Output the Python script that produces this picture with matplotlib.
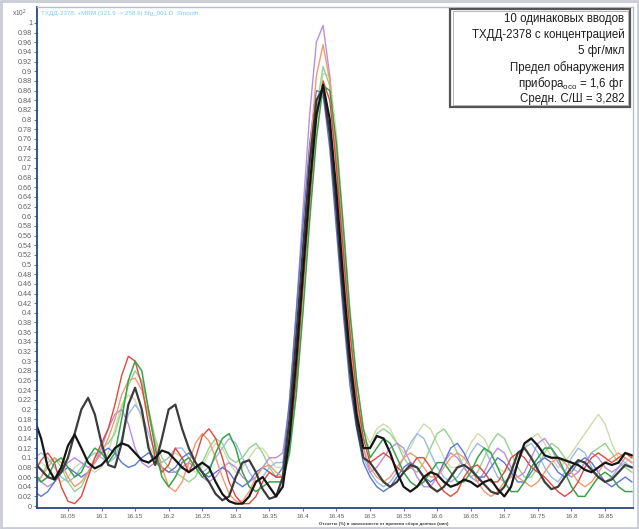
import numpy as np
import matplotlib
matplotlib.use("Agg")
import matplotlib.pyplot as plt
from matplotlib.patches import Rectangle

plt.rcParams['font.family'] = ['Liberation Sans', 'DejaVu Sans']
plt.rcParams['mathtext.fontset'] = 'custom'
plt.rcParams['mathtext.rm'] = 'Liberation Sans'

# retention time grid, min
rt = np.linspace(16.00, 16.89, 90)

# counts (x10^2), one list per injection: 16.00..16.37 | peak 16.38..16.49 | 16.50..16.89
black = [0.18, 0.14, 0.08, 0.055, 0.08, 0.125, 0.148, 0.12, 0.09, 0.078,
         0.085, 0.10, 0.12, 0.13, 0.125, 0.11, 0.095, 0.09, 0.10, 0.115,
         0.11, 0.095, 0.08, 0.07, 0.08, 0.09, 0.08, 0.05, 0.025, 0.01,
         0.005, 0.005, 0.02, 0.05, 0.06, 0.04, 0.02, 0.04,
         0.14, 0.30, 0.48, 0.66, 0.81, 0.872, 0.80, 0.65, 0.47, 0.31, 0.19, 0.12,
         0.12, 0.145, 0.14, 0.11, 0.07, 0.04, 0.03, 0.04, 0.06, 0.07,
         0.065, 0.05, 0.04, 0.045, 0.055, 0.05, 0.04, 0.05, 0.055, 0.035,
         0.02, 0.04, 0.09, 0.13, 0.14, 0.125, 0.105, 0.10, 0.10, 0.095,
         0.09, 0.085, 0.075, 0.07, 0.08, 0.09, 0.085, 0.09, 0.11, 0.105]
dark = [0.09, 0.075, 0.06, 0.055, 0.07, 0.10, 0.15, 0.20, 0.224, 0.19,
        0.13, 0.085, 0.08, 0.13, 0.21, 0.245, 0.20, 0.12, 0.085, 0.14,
        0.20, 0.21, 0.16, 0.12, 0.09, 0.07, 0.05, 0.025, 0.012, 0.02,
        0.06, 0.09, 0.095, 0.07, 0.035, 0.015, 0.02, 0.06,
        0.18, 0.35, 0.53, 0.71, 0.84, 0.865, 0.77, 0.61, 0.43, 0.28, 0.17, 0.10,
        0.09, 0.07, 0.05, 0.04, 0.05, 0.07, 0.085, 0.08, 0.06, 0.04,
        0.03, 0.04, 0.06, 0.08, 0.085, 0.075, 0.06, 0.045, 0.03, 0.025,
        0.04, 0.07, 0.11, 0.12, 0.10, 0.075, 0.05, 0.035, 0.04, 0.06,
        0.08, 0.095, 0.09, 0.075, 0.06, 0.05, 0.055, 0.07, 0.085, 0.08]
red = [0.07, 0.095, 0.11, 0.09, 0.04, 0.01, 0.005, 0.02, 0.06, 0.10,
       0.13, 0.16, 0.21, 0.27, 0.31, 0.30, 0.25, 0.17, 0.10, 0.07,
       0.085, 0.12, 0.10, 0.07, 0.10, 0.145, 0.16, 0.14, 0.10, 0.05,
       0.02, 0.005, 0.005, 0.02, 0.05, 0.07, 0.06, 0.06,
       0.13, 0.26, 0.45, 0.63, 0.80, 0.88, 0.84, 0.70, 0.53, 0.36, 0.23, 0.14,
       0.09, 0.10, 0.11, 0.10, 0.08, 0.07, 0.08, 0.10, 0.10, 0.08,
       0.05, 0.03, 0.02, 0.03, 0.06, 0.08, 0.085, 0.07, 0.05, 0.05,
       0.07, 0.10, 0.11, 0.10, 0.08, 0.07, 0.06, 0.045, 0.03, 0.02,
       0.03, 0.05, 0.08, 0.10, 0.11, 0.10, 0.09, 0.10, 0.11, 0.10]
orange = [0.05, 0.06, 0.08, 0.10, 0.09, 0.06, 0.04, 0.05, 0.07, 0.09,
          0.11, 0.14, 0.18, 0.23, 0.26, 0.265, 0.24, 0.19, 0.13, 0.08,
          0.04, 0.03, 0.05, 0.09, 0.13, 0.15, 0.135, 0.10, 0.06, 0.025,
          0.01, 0.01, 0.03, 0.06, 0.08, 0.085, 0.07, 0.06,
          0.15, 0.32, 0.53, 0.73, 0.89, 0.955, 0.88, 0.71, 0.52, 0.33, 0.21, 0.12,
          0.08, 0.06, 0.05, 0.06, 0.08, 0.10, 0.11, 0.10, 0.08, 0.06,
          0.06, 0.08, 0.10, 0.11, 0.10, 0.08, 0.05, 0.03, 0.02, 0.03,
          0.05, 0.06, 0.06, 0.05, 0.04, 0.05, 0.07, 0.09, 0.10, 0.09,
          0.07, 0.05, 0.04, 0.05, 0.07, 0.09, 0.10, 0.11, 0.10, 0.09]
green = [0.07, 0.05, 0.06, 0.09, 0.10, 0.08, 0.06, 0.07, 0.10, 0.12,
         0.11, 0.09, 0.11, 0.18, 0.26, 0.30, 0.28, 0.20, 0.12, 0.06,
         0.04, 0.06, 0.09, 0.10, 0.08, 0.06, 0.07, 0.11, 0.14, 0.15,
         0.12, 0.07, 0.04, 0.03, 0.04, 0.05, 0.05, 0.05,
         0.11, 0.23, 0.40, 0.59, 0.76, 0.87, 0.86, 0.75, 0.58, 0.40, 0.26, 0.16,
         0.10, 0.12, 0.14, 0.13, 0.10, 0.07, 0.05, 0.04, 0.05, 0.07,
         0.09, 0.09, 0.07, 0.05, 0.05, 0.07, 0.10, 0.12, 0.11, 0.08,
         0.05, 0.03, 0.03, 0.05, 0.08, 0.10, 0.12, 0.12, 0.10, 0.07,
         0.04, 0.02, 0.02, 0.04, 0.06, 0.07, 0.06, 0.04, 0.03, 0.03]
lightgreen = [0.04, 0.06, 0.09, 0.10, 0.08, 0.05, 0.03, 0.04, 0.07, 0.10,
              0.12, 0.13, 0.15, 0.20, 0.25, 0.28, 0.26, 0.20, 0.14, 0.10,
              0.08, 0.07, 0.06, 0.05, 0.06, 0.09, 0.12, 0.14, 0.13, 0.10,
              0.09, 0.10, 0.12, 0.13, 0.11, 0.08, 0.06, 0.06,
              0.13, 0.27, 0.46, 0.66, 0.82, 0.91, 0.87, 0.73, 0.55, 0.37, 0.23, 0.14,
              0.12, 0.15, 0.16, 0.15, 0.13, 0.10, 0.08, 0.07, 0.09, 0.12,
              0.15, 0.16, 0.14, 0.11, 0.08, 0.06, 0.07, 0.10, 0.13, 0.15,
              0.14, 0.11, 0.08, 0.06, 0.06, 0.08, 0.11, 0.13, 0.12, 0.10,
              0.08, 0.07, 0.09, 0.11, 0.12, 0.13, 0.11, 0.09, 0.08, 0.07]
blue = [0.03, 0.02, 0.03, 0.05, 0.07, 0.08, 0.07, 0.06, 0.07, 0.09,
        0.11, 0.12, 0.11, 0.09, 0.08, 0.085, 0.10, 0.11, 0.10, 0.08,
        0.07, 0.08, 0.10, 0.11, 0.09, 0.07, 0.06, 0.07, 0.08, 0.07,
        0.05, 0.04, 0.05, 0.07, 0.08, 0.07, 0.06, 0.08,
        0.22, 0.40, 0.58, 0.75, 0.86, 0.855, 0.74, 0.57, 0.40, 0.25, 0.16, 0.09,
        0.06, 0.04, 0.03, 0.04, 0.06, 0.08, 0.09, 0.08, 0.06, 0.05,
        0.06, 0.09, 0.12, 0.13, 0.11, 0.08, 0.06, 0.06, 0.08, 0.10,
        0.09, 0.07, 0.05, 0.05, 0.07, 0.09, 0.10, 0.09, 0.07, 0.06,
        0.07, 0.09, 0.10, 0.09, 0.07, 0.05, 0.04, 0.05, 0.06, 0.05]
lightblue = [0.10, 0.11, 0.10, 0.08, 0.06, 0.05, 0.06, 0.08, 0.10, 0.11,
             0.10, 0.09, 0.10, 0.14, 0.19, 0.21, 0.19, 0.15, 0.11, 0.09,
             0.10, 0.12, 0.12, 0.10, 0.08, 0.07, 0.08, 0.10, 0.12, 0.14,
             0.13, 0.10, 0.07, 0.05, 0.06, 0.08, 0.09, 0.09,
             0.18, 0.34, 0.52, 0.70, 0.82, 0.85, 0.76, 0.60, 0.43, 0.28, 0.17, 0.10,
             0.07, 0.05, 0.04, 0.05, 0.07, 0.10, 0.13, 0.15, 0.14, 0.11,
             0.08, 0.06, 0.05, 0.06, 0.08, 0.11, 0.13, 0.12, 0.09, 0.06,
             0.05, 0.06, 0.09, 0.12, 0.13, 0.11, 0.08, 0.06, 0.05, 0.07,
             0.10, 0.12, 0.11, 0.08, 0.06, 0.05, 0.06, 0.08, 0.09, 0.08]
purple = [0.06, 0.05, 0.04, 0.05, 0.07, 0.09, 0.10, 0.09, 0.08, 0.09,
          0.12, 0.16, 0.19, 0.20, 0.17, 0.12, 0.09, 0.08, 0.09, 0.08,
          0.07, 0.07, 0.08, 0.09, 0.08, 0.06, 0.05, 0.06, 0.08, 0.09,
          0.08, 0.06, 0.05, 0.06, 0.08, 0.10, 0.10, 0.11,
          0.21, 0.40, 0.61, 0.81, 0.96, 0.995, 0.89, 0.70, 0.50, 0.32, 0.20, 0.12,
          0.07, 0.08, 0.10, 0.12, 0.13, 0.12, 0.09, 0.06, 0.04, 0.04,
          0.06, 0.09, 0.11, 0.10, 0.08, 0.06, 0.05, 0.07, 0.10, 0.12,
          0.11, 0.08, 0.06, 0.07, 0.10, 0.13, 0.14, 0.12, 0.09, 0.07,
          0.06, 0.07, 0.09, 0.11, 0.10, 0.08, 0.07, 0.08, 0.10, 0.09]
pale = [0.08, 0.09, 0.08, 0.06, 0.05, 0.06, 0.08, 0.09, 0.08, 0.07,
        0.08, 0.11, 0.16, 0.21, 0.23, 0.22, 0.18, 0.13, 0.10, 0.09,
        0.10, 0.11, 0.10, 0.08, 0.07, 0.08, 0.11, 0.13, 0.12, 0.09,
        0.07, 0.08, 0.10, 0.12, 0.12, 0.10, 0.08, 0.08,
        0.11, 0.23, 0.41, 0.61, 0.78, 0.895, 0.89, 0.77, 0.59, 0.41, 0.26, 0.16,
        0.13, 0.16, 0.17, 0.16, 0.13, 0.11, 0.12, 0.15, 0.17, 0.16,
        0.13, 0.10, 0.08, 0.08, 0.10, 0.13, 0.15, 0.14, 0.11, 0.08,
        0.07, 0.08, 0.10, 0.12, 0.14, 0.15, 0.13, 0.10, 0.08, 0.09,
        0.11, 0.13, 0.15, 0.17, 0.19, 0.17, 0.13, 0.10, 0.09, 0.10]

series = [
    (pale, '#cfdcaa', 1.0),
    (lightblue, '#9bbbe6', 1.0),
    (lightgreen, '#92d48e', 1.0),
    (purple, '#bb8ee0', 1.0),
    (blue, '#5b78d6', 1.0),
    (orange, '#f39a6e', 1.0),
    (red, '#e2483c', 1.0),
    (green, '#3aa24a', 1.1),
    (dark, '#3c3c3c', 1.6),
    (black, '#151515', 1.6),
]

xticks = [16.05, 16.1, 16.15, 16.2, 16.25, 16.3, 16.35, 16.4, 16.45, 16.5,
          16.55, 16.6, 16.65, 16.7, 16.75, 16.8, 16.85]
yticks = np.round(np.arange(0, 1.001, 0.02), 2)

info = ["10 одинаковых вводов",
        "ТХДД-2378 с концентрацией",
        "5 фг/мкл",
        "Предел обнаружения",
        r"прибора$_{\mathrm{осо}}$ = 1,6 фг",
        "Средн. С/Ш = 3,282"]

fig = plt.figure(figsize=(6.39, 5.29), dpi=100)
ax = fig.add_axes([0.058, 0.0397, 0.933, 0.947])

for y, c, lw in series:
    ax.plot(rt, y, color=c, lw=lw, solid_joinstyle='round')

ax.set_xlim(16.004, 16.892)
ax.set_ylim(-0.004, 1.033)
ax.set_xticks(xticks)
ax.set_xticklabels([f"{t:g}" for t in xticks])
ax.set_yticks(yticks)
ax.set_yticklabels([f"{t:g}" for t in yticks])
ax.tick_params(axis='y', labelsize=5.2, colors='#606060', length=2.5, width=0.6, pad=1)
ax.tick_params(axis='x', labelsize=4.6, colors='#606060', length=2.5, width=0.6, pad=1.5)

for s in ['left', 'bottom']:
    ax.spines[s].set_color('#27457f')
    ax.spines[s].set_linewidth(1.3)
for s in ['top', 'right']:
    ax.spines[s].set_color('#b8bfd0')
    ax.spines[s].set_linewidth(1.0)

ax.text(0.006, 0.992, "ТХДД-2378: +MRM (321.9 -> 258.9) 5fg_001.D  Smooth",
        transform=ax.transAxes, fontsize=4.5, color='#7ccbe8', va='top', ha='left')
fig.text(0.018, 0.975, r"x10$^{2}$", fontsize=4.8, color='#606060', va='center')
fig.text(0.60, 0.008, "Отсчеты (%) в зависимости от времени сбора данных (мин)",
         fontsize=3.2, color='#404040', fontweight='bold', ha='center')

# info box, top right
ax.add_patch(Rectangle((0.693, 0.800), 0.302, 0.196, transform=ax.transAxes,
                       facecolor='white', edgecolor='#555555', lw=1.6, zorder=5))
ax.add_patch(Rectangle((0.697, 0.804), 0.294, 0.188, transform=ax.transAxes,
                       facecolor='none', edgecolor='#aaaaaa', lw=0.6, zorder=5))
for k, line in enumerate(info):
    ax.text(0.985, 0.977 - k * 0.0323, line, transform=ax.transAxes, fontsize=8.3,
            ha='right', va='center', color='#1e1e1e', zorder=6)

fig.patches.append(Rectangle((0.002, 0.002), 0.996, 0.996, transform=fig.transFigure,
                             facecolor='none', edgecolor='#c9ccd6', lw=2))

fig.savefig("out.png", dpi=100)
